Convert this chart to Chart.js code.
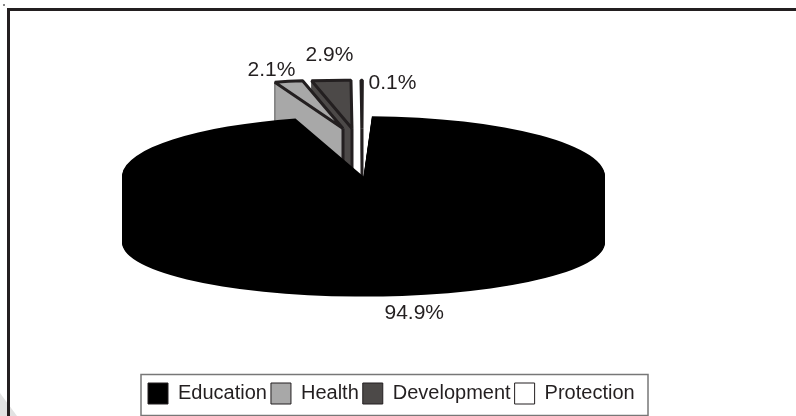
<!DOCTYPE html>
<html>
<head>
<meta charset="utf-8">
<script src="https://cdn.jsdelivr.net/npm/chart.js@4/dist/chart.umd.min.js"></script>
<style>
  body { margin: 0; background: #fff; }
  canvas { display: block; }
</style>
</head>
<body>
<canvas id="sectorChart" width="796" height="416"></canvas>
<script>
// Share of spending per sector (percent)
const sectors = ['Education', 'Health', 'Development', 'Protection'];
const shares = [94.9, 2.1, 2.9, 0.1];
const sliceColors = ['#000000', '#a8a8a8', '#4c4948', '#ffffff'];

const inkColor = '#231f20';
const pieFont = '21px "Liberation Sans", Arial, sans-serif';

// 3D look: squash the pie and extrude it downwards, the lower rim is a bit flatter
const tilt = 0.25;
const lowerTilt = 0.224;
const depth = 66;

// Pulled out slices sit further back, so they get their own squash and skew
const backSlice = { scaleX: 0.9, skew: 0.03, tilt: 0.2 };
const pullOut = [null, [-20.5, -48], [-11.5, -48], [-1.5, -48]];

// Label places relative to the pie centre
const labelOffsets = [[21, 142], [-116, -101], [-58, -116], [5, -88]];

function backTransform(arc, i) {
    return [backSlice.scaleX, 0, backSlice.skew, backSlice.tilt, arc.x + pullOut[i][0], arc.y + pullOut[i][1]];
}

function applyPoint(m, x, y) {
    return [m[0] * x + m[2] * y + m[4], m[1] * x + m[3] * y + m[5]];
}

function drawBackSlice(ctx, arc, i) {
    const m = backTransform(arc, i);
    const r = arc.outerRadius;
    const apex = applyPoint(m, 0, 0);
    const outer = applyPoint(m, Math.cos(arc.startAngle) * r, Math.sin(arc.startAngle) * r);

    // cut face below the left edge
    ctx.fillStyle = sliceColors[i];
    ctx.strokeStyle = '#555555';
    ctx.lineWidth = 1;
    ctx.beginPath();
    ctx.moveTo(outer[0], outer[1]);
    ctx.lineTo(apex[0], apex[1]);
    ctx.lineTo(apex[0], apex[1] + depth);
    ctx.lineTo(outer[0], outer[1] + depth);
    ctx.closePath();
    ctx.fill();
    ctx.stroke();

    // top face, the path is built under the transform so the stroke stays even
    ctx.save();
    ctx.transform(m[0], m[1], m[2], m[3], m[4], m[5]);
    ctx.beginPath();
    ctx.moveTo(0, 0);
    ctx.arc(0, 0, r, arc.startAngle, arc.endAngle);
    ctx.closePath();
    ctx.restore();
    ctx.fill();
    ctx.strokeStyle = inkColor;
    ctx.lineWidth = 3;
    ctx.lineJoin = 'bevel';
    ctx.stroke();

    // edge down from the apex
    ctx.beginPath();
    ctx.moveTo(apex[0], apex[1]);
    ctx.lineTo(apex[0], apex[1] + depth);
    ctx.stroke();
}

function drawFrontSlice(ctx, arc, i) {
    ctx.fillStyle = sliceColors[i];
    for (let d = depth; d >= 0; d--) {
        const t = tilt + (lowerTilt - tilt) * d / depth;
        ctx.beginPath();
        ctx.moveTo(arc.x, arc.y + d);
        ctx.ellipse(arc.x, arc.y + d, arc.outerRadius, arc.outerRadius * t, 0, arc.startAngle, arc.endAngle);
        ctx.closePath();
        ctx.fill();
    }
}

const pie3d = {
    id: 'pie3d',
    beforeDraw(chart) {
        const ctx = chart.ctx;
        ctx.save();
        ctx.fillStyle = '#ffffff';
        ctx.fillRect(0, 0, 796, 416);
        // scan leftovers in the corners of the page
        ctx.fillStyle = '#e2e2e2';
        ctx.beginPath();
        ctx.moveTo(0, 393);
        ctx.lineTo(17, 416);
        ctx.lineTo(0, 416);
        ctx.closePath();
        ctx.fill();
        ctx.fillStyle = '#888888';
        ctx.fillRect(3, 4, 2, 2);
        // outer frame, only top and left are on the page
        ctx.fillStyle = inkColor;
        ctx.fillRect(7, 8, 789, 3);
        ctx.fillRect(7, 8, 3, 408);
        // legend frame
        ctx.strokeStyle = '#777777';
        ctx.lineWidth = 1.5;
        ctx.strokeRect(141, 374.5, 507, 41);
        ctx.restore();
    },
    afterLayout(chart) {
        // legend sits left of the page centre
        const legend = chart.legend;
        legend.left = 144;
        legend.right = 660;
        const h = legend.bottom - legend.top;
        legend.top = 379;
        legend.bottom = 379 + h;
    },
    beforeDatasetsDraw(chart) {
        const ctx = chart.ctx;
        const arcs = chart.getDatasetMeta(0).data;
        ctx.save();
        [2, 3, 1].forEach(i => drawBackSlice(ctx, arcs[i], i));
        drawFrontSlice(ctx, arcs[0], 0);
        ctx.fillStyle = inkColor;
        ctx.font = pieFont;
        ctx.textAlign = 'left';
        ctx.textBaseline = 'alphabetic';
        shares.forEach((v, i) => {
            ctx.fillText(v.toFixed(1) + '%', arcs[0].x + labelOffsets[i][0], arcs[0].y + labelOffsets[i][1]);
        });
        ctx.restore();
        return false;
    }
};

new Chart(document.getElementById('sectorChart').getContext('2d'), {
    type: 'pie',
    data: {
        labels: sectors,
        datasets: [{
            data: shares,
            backgroundColor: sliceColors,
            borderColor: inkColor,
            borderWidth: 1
        }]
    },
    options: {
        responsive: false,
        animation: false,
        rotation: 2,
        radius: 241.5,
        layout: { padding: { right: 69, bottom: 28 } },
        plugins: {
            tooltip: { enabled: false },
            legend: {
                position: 'bottom',
                align: 'start',
                labels: {
                    boxWidth: 20,
                    boxHeight: 21,
                    padding: 4,
                    color: inkColor,
                    font: { size: 20, family: '"Liberation Sans", Arial, sans-serif' }
                }
            }
        }
    },
    plugins: [pie3d]
});
</script>
</body>
</html>
